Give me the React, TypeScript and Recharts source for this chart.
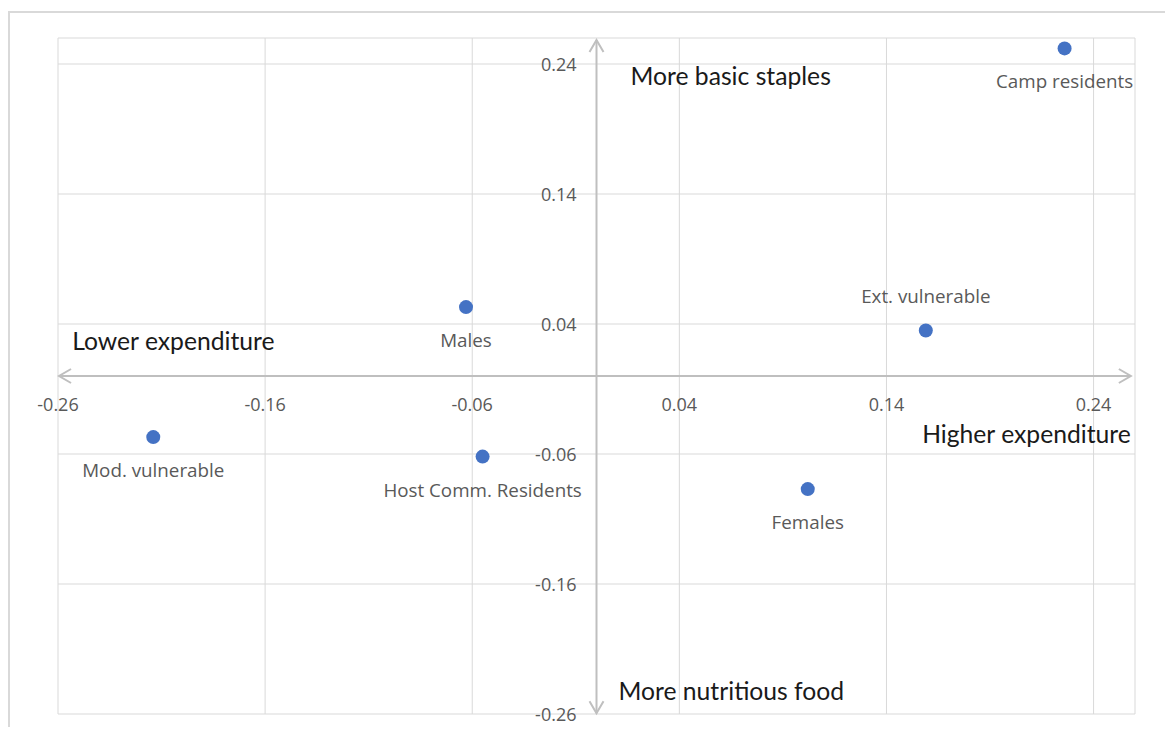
import { ScatterChart, Scatter, XAxis, YAxis, CartesianGrid, ReferenceLine } from "recharts";

const X_TICKS = [-0.26, -0.16, -0.06, 0.04, 0.14, 0.24];
const Y_TICKS = [-0.26, -0.16, -0.06, 0.04, 0.14, 0.24];

const groups = ["Camp residents", "Ext. vulnerable", "Males", "Mod. vulnerable", "Host Comm. Residents", "Females"];
const expenditure = [0.226, 0.159, -0.063, -0.214, -0.055, 0.102];
const staples = [0.252, 0.035, 0.053, -0.047, -0.062, -0.087];

const quadrantText = ["More basic staples", "Lower expenditure", "Higher expenditure", "More nutritious food"];

// label anchors in data units (baseline of text)
const ANNOTATIONS = [
  { x: 0.0164, y: 0.2238, anchor: "start" },
  { x: -0.2531, y: 0.02, anchor: "start" },
  { x: 0.258, y: -0.0515, anchor: "end" },
  { x: 0.0106, y: -0.2492, anchor: "start" },
];
const LABEL_ABOVE = new Set(["Ext. vulnerable"]);

const points = groups.map((name, i) => ({ name, x: expenditure[i], y: staples[i] }));
const xTickData = X_TICKS.map((v) => ({ x: v, y: 0 }));
const yTickData = Y_TICKS.map((v) => ({ x: 0, y: v }));
const notes = quadrantText.map((text, i) => ({ text, ...ANNOTATIONS[i] }));

const AXIS = "#bfbfbf";
const GRID = "#d9d9d9";
const MUTED = "#595959";
const DOT = "#4472c4";
const SMALL_FONT = "'Open Sans', 'Noto Sans', sans-serif";

function ArrowAxis(p: any) {
  const { x1, y1, x2, y2 } = p;
  const len = Math.hypot(x2 - x1, y2 - y1) || 1;
  const ux = (x2 - x1) / len;
  const uy = (y2 - y1) / len;
  const nx = -uy;
  const ny = ux;
  const hl = 12;
  const hw = 7;
  const head = (tx: number, ty: number, dx: number, dy: number) =>
    `${tx - dx * hl + nx * hw},${ty - dy * hl + ny * hw} ${tx},${ty} ${tx - dx * hl - nx * hw},${ty - dy * hl - ny * hw}`;
  return (
    <g>
      <line x1={x1} y1={y1} x2={x2} y2={y2} stroke={AXIS} strokeWidth={2} />
      <polyline points={head(x2, y2, ux, uy)} fill="none" stroke={AXIS} strokeWidth={2} />
      <polyline points={head(x1, y1, -ux, -uy)} fill="none" stroke={AXIS} strokeWidth={2} />
    </g>
  );
}

function PointShape(p: any) {
  const { cx, cy, payload } = p;
  const above = LABEL_ABOVE.has(payload.name);
  return (
    <g>
      <circle cx={cx} cy={cy} r={7} fill={DOT} />
      <text
        x={cx}
        y={above ? cy - 28 : cy + 40}
        textAnchor="middle"
        fontSize={18.8}
        fontFamily={SMALL_FONT}
        fill={MUTED}
      >
        {payload.name}
      </text>
    </g>
  );
}

function XTickShape(p: any) {
  return (
    <text x={p.cx} y={p.cy + 35} textAnchor="middle" fontSize={18} fontFamily={SMALL_FONT} fill={MUTED}>
      {p.payload.x.toFixed(2)}
    </text>
  );
}

function YTickShape(p: any) {
  return (
    <text x={p.cx - 20} y={p.cy + 6.5} textAnchor="end" fontSize={18} fontFamily={SMALL_FONT} fill={MUTED}>
      {p.payload.y.toFixed(2)}
    </text>
  );
}

function NoteShape(p: any) {
  return (
    <text x={p.cx} y={p.cy} textAnchor={p.payload.anchor} fontSize={24.7} fill="#1a1a1a">
      {p.payload.text}
    </text>
  );
}

export default function App() {
  return (
    <div
      style={{
        marginTop: 3,
        width: 1157,
        height: 716,
        boxSizing: "border-box",
        overflow: "hidden",
        borderLeft: "2px solid #d9d9d9",
        borderTop: "2px solid #d9d9d9",
        fontFamily: "Lato, 'Open Sans', sans-serif",
        background: "#fff",
      }}
    >
      <ScatterChart width={1150} height={714} margin={{ top: 25, left: 48, right: 25, bottom: 13 }}>
        <XAxis type="number" dataKey="x" domain={[-0.26, 0.26]} ticks={X_TICKS} hide />
        <YAxis type="number" dataKey="y" domain={[-0.26, 0.26]} ticks={Y_TICKS} hide />
        <CartesianGrid stroke={GRID} strokeWidth={1} />
        <ReferenceLine
          segment={[{ x: -0.2595, y: 0 }, { x: 0.258, y: 0 }]}
          shape={ArrowAxis}
        />
        <ReferenceLine
          segment={[{ x: 0, y: -0.2595 }, { x: 0, y: 0.2585 }]}
          shape={ArrowAxis}
        />
        <Scatter data={xTickData} shape={XTickShape} isAnimationActive={false} />
        <Scatter data={yTickData} shape={YTickShape} isAnimationActive={false} />
        <Scatter data={notes} shape={NoteShape} isAnimationActive={false} />
        <Scatter data={points} shape={PointShape} isAnimationActive={false} />
      </ScatterChart>
    </div>
  );
}
